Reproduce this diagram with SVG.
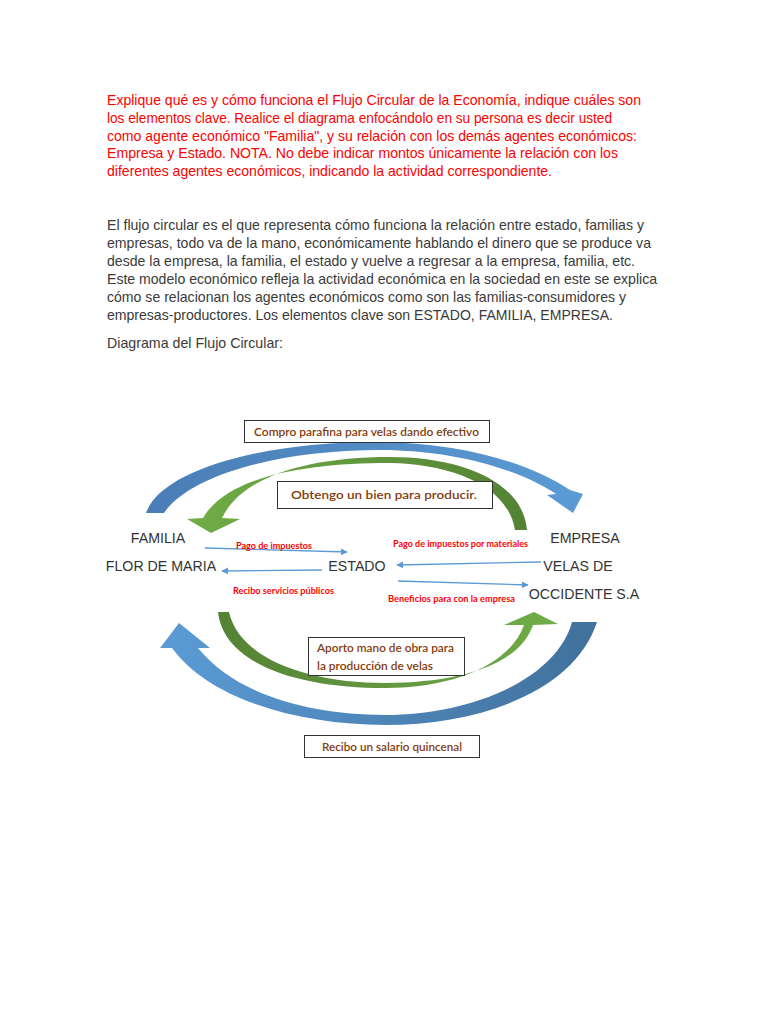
<svg xmlns="http://www.w3.org/2000/svg" width="768" height="1024" viewBox="0 0 768 1024">
<defs>
<style>
.q{font-family:"Liberation Sans",Arial,sans-serif;font-size:14.2px;fill:#ff0000}
.p{font-family:"Liberation Sans",Arial,sans-serif;font-size:14.2px;fill:#3a3a3a}
.n{font-family:"Liberation Sans",Arial,sans-serif;font-size:14.2px;fill:#333333}
.r{font-family:Lato,"Open Sans",sans-serif;font-size:9px;font-weight:bold;fill:#ff0000}
.b{font-family:Lato,"Open Sans",sans-serif;font-size:11.5px;font-weight:600;fill:#843c0c}
.bx{fill:#ffffff;stroke:#333333;stroke-width:1}
.ln{stroke:#5b9bd5;stroke-width:1.3;fill:none;marker-end:url(#ah)}
</style>
<marker id="ah" viewBox="0 0 10 10" refX="9" refY="5" markerWidth="7" markerHeight="7" orient="auto" markerUnits="userSpaceOnUse">
<path d="M0,0 L10,5 L0,10 z" fill="#5b9bd5"/>
</marker>
<linearGradient id="gBlueTop" x1="0" y1="0" x2="1" y2="0">
<stop offset="0" stop-color="#4a7db5"/><stop offset="1" stop-color="#5b9bd5"/>
</linearGradient>
<linearGradient id="gBlueBot" x1="0" y1="0" x2="1" y2="0">
<stop offset="0" stop-color="#5b9bd5"/><stop offset="1" stop-color="#41719c"/>
</linearGradient>
<linearGradient id="gGreenTop" x1="0" y1="0" x2="1" y2="0">
<stop offset="0" stop-color="#70ad47"/><stop offset="1" stop-color="#548235"/>
</linearGradient>
<linearGradient id="gGreenBot" x1="0" y1="0" x2="1" y2="0">
<stop offset="0" stop-color="#548235"/><stop offset="1" stop-color="#70ad47"/>
</linearGradient>
</defs>
<rect width="768" height="1024" fill="#ffffff"/>

<g id="question">
<text class="q" x="107" y="105" textLength="534" lengthAdjust="spacingAndGlyphs">Explique qué es y cómo funciona el Flujo Circular de la Economía, indique cuáles son</text>
<text class="q" x="107" y="123" textLength="505" lengthAdjust="spacingAndGlyphs">los elementos clave. Realice el diagrama enfocándolo en su persona es decir usted</text>
<text class="q" x="107" y="141" textLength="530" lengthAdjust="spacingAndGlyphs">como agente económico "Familia", y su relación con los demás agentes económicos:</text>
<text class="q" x="107" y="158" textLength="511" lengthAdjust="spacingAndGlyphs">Empresa y Estado. NOTA. No debe indicar montos únicamente la relación con los</text>
<text class="q" x="107" y="176" textLength="445" lengthAdjust="spacingAndGlyphs">diferentes agentes económicos, indicando la actividad correspondiente.</text>
</g>

<g id="answer">
<text class="p" x="107" y="230" textLength="537" lengthAdjust="spacingAndGlyphs">El flujo circular es el que representa cómo funciona la relación entre estado, familias y</text>
<text class="p" x="107" y="248" textLength="544" lengthAdjust="spacingAndGlyphs">empresas, todo va de la mano, económicamente hablando el dinero que se produce va</text>
<text class="p" x="107" y="266" textLength="528" lengthAdjust="spacingAndGlyphs">desde la empresa, la familia, el estado y vuelve a regresar a la empresa, familia, etc.</text>
<text class="p" x="107" y="284" textLength="550" lengthAdjust="spacingAndGlyphs">Este modelo económico refleja la actividad económica en la sociedad en este se explica</text>
<text class="p" x="107" y="302" textLength="519" lengthAdjust="spacingAndGlyphs">cómo se relacionan los agentes económicos como son las familias-consumidores y</text>
<text class="p" x="107" y="320" textLength="506" lengthAdjust="spacingAndGlyphs">empresas-productores. Los elementos clave son ESTADO, FAMILIA, EMPRESA.</text>
<text class="p" x="107" y="348" textLength="176" lengthAdjust="spacingAndGlyphs">Diagrama del Flujo Circular:</text>
</g>

<g id="connectors">
<path id="arc-blue-top" fill="url(#gBlueTop)" d="M146,513 C162,468 270,441 380,442 C462,443 530,463 570,490 L583,494 L573,513 L547,495 L556,494 C520,470 455,450 380,450 C280,450 190,475 164,513 Z"/>
<path id="arc-green-top" fill="url(#gGreenTop)" d="M527,530 C523,482 462,457 390,457 C300,457 240,480 222,518 L240,519 L211,533 L187,519 L203,518 C226,478 300,463 390,463 C452,464 508,486 515,530 Z"/>
<path id="arc-green-bot" fill="url(#gGreenBot)" d="M218,612 C224,665 300,688 385,688 C462,688 512,660 524,625 L504,625 L534,612 L558,624 L533,625 C520,664 462,683 385,683 C310,683 240,660 229,612 Z"/>
<path id="arc-blue-bot" fill="url(#gBlueBot)" d="M172,648 C210,700 300,725 385,725 C482,725 575,690 597,622 L572,622 C556,680 470,715 385,715 C310,715 236,695 198,648 L210,648 L179,623 L160,648 Z"/>
<line class="ln" x1="205" y1="548" x2="347" y2="552"/>
<line class="ln" x1="322" y1="570" x2="222" y2="571"/>
<line class="ln" x1="541" y1="562" x2="397" y2="565"/>
<line class="ln" x1="398" y1="581" x2="528" y2="585"/>
<text class="r" x="236" y="549" textLength="76" lengthAdjust="spacingAndGlyphs">Pago de impuestos</text>
<text class="r" x="393" y="547" textLength="135" lengthAdjust="spacingAndGlyphs">Pago de impuestos por materiales</text>
<text class="r" x="233" y="594" textLength="101" lengthAdjust="spacingAndGlyphs">Recibo servicios públicos</text>
<text class="r" x="388" y="602" textLength="127" lengthAdjust="spacingAndGlyphs">Beneficios para con la empresa</text>
</g>

<g id="familia">
<text class="n" x="158" y="543" text-anchor="middle">FAMILIA</text>
<text class="n" x="161" y="571" text-anchor="middle">FLOR DE MARIA</text>
</g>
<g id="estado">
<text class="n" x="357" y="571" text-anchor="middle">ESTADO</text>
</g>
<g id="empresa">
<text class="n" x="585" y="543" text-anchor="middle">EMPRESA</text>
<text class="n" x="578" y="571" text-anchor="middle">VELAS DE</text>
<text class="n" x="584" y="599" text-anchor="middle">OCCIDENTE S.A</text>
</g>

<g id="box-compro">
<rect class="bx" x="244.5" y="420.5" width="245" height="22"/>
<text class="b" x="254" y="436" textLength="225" lengthAdjust="spacingAndGlyphs">Compro parafina para velas dando efectivo</text>
</g>
<g id="box-obtengo">
<rect class="bx" x="277.5" y="481.5" width="215" height="27"/>
<text class="b" x="291" y="499" textLength="186" lengthAdjust="spacingAndGlyphs">Obtengo un bien para producir.</text>
</g>
<g id="box-aporto">
<rect class="bx" x="308.5" y="637.5" width="156" height="38"/>
<text class="b" x="317" y="652" textLength="137" lengthAdjust="spacingAndGlyphs">Aporto mano de obra para</text>
<text class="b" x="317" y="670" textLength="116" lengthAdjust="spacingAndGlyphs">la producción de velas</text>
</g>
<g id="box-recibo">
<rect class="bx" x="304.5" y="735.5" width="175" height="22"/>
<text class="b" x="322" y="751" textLength="140" lengthAdjust="spacingAndGlyphs">Recibo un salario quincenal</text>
</g>
</svg>
